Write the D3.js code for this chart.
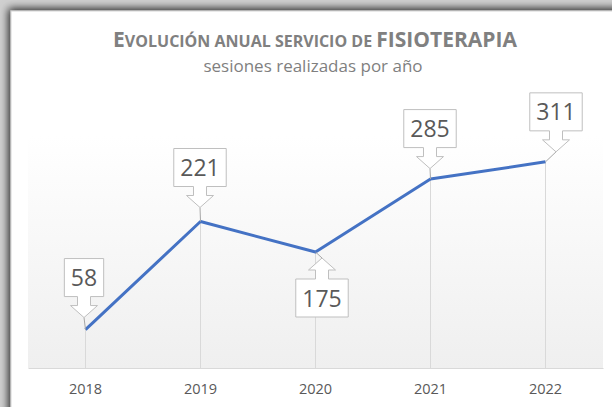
<!DOCTYPE html>
<html>
<head>
<meta charset="utf-8">
<script src="https://cdn.jsdelivr.net/npm/d3@7"></script>
<style>
  body { margin: 0; background: #ffffff; }
  svg { display: block; }
</style>
</head>
<body>
<div id="chart"></div>
<script>
// data
var years = ["2018", "2019", "2020", "2021", "2022"]
var sesiones = [58, 221, 175, 285, 311]

// where each callout arrow tip sits, relative to its point (layout only)
var tipDx = [-1.5, -0.5, 6.5, -0.5, 10.5]
var tipDy = [-12, -14, 6, -10.5, -10]

var width = 612, height = 407
var plot = {left: 28, right: 603, top: 136, bottom: 368}

var svg = d3.select("#chart").append("svg")
            .attr("width", width)
            .attr("height", height)

var defs = svg.append("defs")

//shadow round the chart frame
var shadow = defs.append("filter").attr("id", "frameShadow")
                 .attr("x", "-10%").attr("y", "-10%")
                 .attr("width", "130%").attr("height", "130%")
shadow.append("feDropShadow")
      .attr("dx", -2).attr("dy", -2)
      .attr("stdDeviation", 4)
      .attr("flood-color", "#000")
      .attr("flood-opacity", 0.85)

//plot area gradient, white on top to light grey at the axis
var grad = defs.append("linearGradient").attr("id", "plotGrad")
               .attr("x1", 0).attr("y1", 0).attr("x2", 0).attr("y2", 1)
grad.append("stop").attr("offset", "0%").attr("stop-color", "#ffffff")
grad.append("stop").attr("offset", "100%").attr("stop-color", "#efefef")

svg.append("rect")
   .attr("x", 0).attr("y", 0)
   .attr("width", width).attr("height", height)
   .style("fill", "#d0d0d0")

svg.append("rect")
   .attr("x", 11).attr("y", 11)
   .attr("width", 700).attr("height", 500)
   .style("fill", "#ffffff")
   .style("stroke", "#d4d4d4")
   .style("stroke-width", 1)
   .attr("filter", "url(#frameShadow)")

//title with small caps made by hand
var title = svg.append("text")
               .attr("x", 315)
               .attr("y", 47)
               .attr("text-anchor", "middle")
               .style("font-family", "'Open Sans', sans-serif")
               .style("font-weight", "bold")
               .style("fill", "#808080")
title.append("tspan").text("E").style("font-size", "21px")
title.append("tspan").text("VOLUCIÓN ANUAL SERVICIO DE ").style("font-size", "16px")
title.append("tspan").text("FISIOTERAPIA").style("font-size", "21px")

svg.append("text").text("sesiones realizadas por año")
   .attr("x", 313)
   .attr("y", 72)
   .attr("text-anchor", "middle")
   .style("font-family", "'Open Sans', sans-serif")
   .style("font-size", "17px")
   .style("fill", "#7f7f7f")

//scales
var x = d3.scaleBand().domain(years).range([plot.left, plot.right])
var y = d3.scaleLinear().domain([0, 350]).range([plot.bottom, plot.top])

function cx(d, i) { return x(years[i]) + x.bandwidth() / 2 }

svg.append("rect")
   .attr("x", plot.left).attr("y", plot.top)
   .attr("width", plot.right - plot.left)
   .attr("height", plot.bottom - plot.top)
   .style("fill", "url(#plotGrad)")

//drop lines from each point to the axis
svg.append("g").selectAll("line").data(sesiones)
   .enter()
   .append("line")
   .attr("x1", cx).attr("x2", cx)
   .attr("y1", d => y(d))
   .attr("y2", plot.bottom)
   .style("stroke", "#d9d9d9")
   .style("stroke-width", 1)

//x axis
var xAxis = d3.axisBottom(x).tickSize(0).tickPadding(16)
var axisG = svg.append("g")
               .attr("transform", `translate(0,${plot.bottom})`)
               .call(xAxis)
axisG.select(".domain").style("stroke", "#d9d9d9")
axisG.selectAll("text")
     .style("font-family", "'Open Sans', sans-serif")
     .style("font-size", "14.5px")
     .style("fill", "#595959")

//the line
var line = d3.line().x(cx).y(d => y(d))
svg.append("path")
   .datum(sesiones)
   .attr("d", line)
   .style("fill", "none")
   .style("stroke", "#4472c4")
   .style("stroke-width", 3)
   .style("stroke-linejoin", "round")

//callouts
var boxH = 38, shaftW = 6.5, shaftL = 9, headW = 13.5, headL = 12

function calloutPath(tx, ty, w, down) {
  var x0 = tx - w / 2, x1 = tx + w / 2
  var s = down ? -1 : 1
  var edge = ty + s * (shaftL + headL)   //box edge next to the arrow
  var far = edge + s * boxH
  var neck = ty + s * headL
  return `M${x0},${far} H${x1} V${edge} H${tx + shaftW} V${neck} H${tx + headW}` +
         ` L${tx},${ty} L${tx - headW},${neck} H${tx - shaftW} V${edge} H${x0} Z`
}

var calloutG = svg.append("g").selectAll("g").data(sesiones)
                  .enter()
                  .append("g")

calloutG.append("line")
        .attr("x1", cx)
        .attr("y1", d => y(d))
        .attr("x2", (d, i) => cx(d, i) + tipDx[i])
        .attr("y2", (d, i) => y(d) + tipDy[i])
        .style("stroke", "#a6a6a6")
        .style("stroke-width", 1)

var shapes = calloutG.append("path")
        .style("fill", "#ffffff")
        .style("stroke", "#bfbfbf")
        .style("stroke-width", 1)

var labels = calloutG.append("text").text(d => d)
        .attr("text-anchor", "middle")
        .style("font-family", "'Open Sans', sans-serif")
        .style("font-size", "23px")
        .style("fill", "#595959")

labels.each(function(d, i) {
  var tx = cx(d, i) + tipDx[i]
  var ty = y(d) + tipDy[i]
  var down = tipDy[i] < 0
  var w = this.getComputedTextLength() + 13
  var edge = down ? ty - shaftL - headL : ty + shaftL + headL
  var mid = down ? edge - boxH / 2 : edge + boxH / 2
  d3.select(this).attr("x", tx).attr("y", mid + 8.5)
  d3.select(shapes.nodes()[i]).attr("d", calloutPath(tx, ty, w, down))
})
</script>
</body>
</html>
